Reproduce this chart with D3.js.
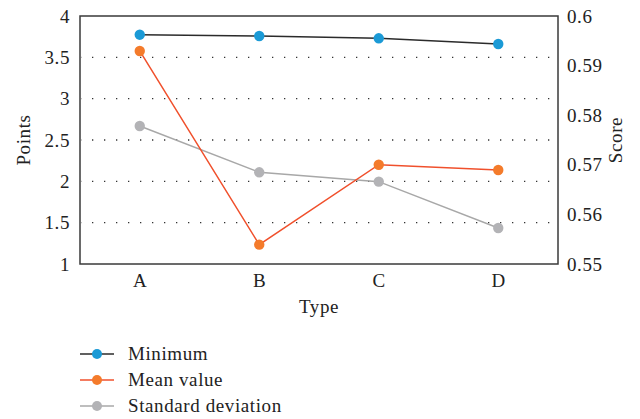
<!DOCTYPE html>
<html><head><meta charset="utf-8">
<script src="https://cdn.jsdelivr.net/npm/d3@7"></script>
<style>body{margin:0;background:#fff;} svg{display:block;} text{font-family:"Liberation Serif","Times New Roman","DejaVu Serif",serif;}</style>
</head><body>
<svg id="c" width="640" height="419"></svg>
<script>
const categories = ["A","B","C","D"];
const minimumValues = [3.774, 3.758, 3.730, 3.661];
const meanValues = [3.577, 1.234, 2.201, 2.137];
const stdValues = [2.669, 2.109, 1.996, 1.435];
const leftTicks = [1, 1.5, 2, 2.5, 3, 3.5, 4];
const rightTicks = [0.55, 0.56, 0.57, 0.58, 0.59, 0.6];
const gridTicks = [1.5, 2, 2.5, 3, 3.5];
const seriesNames = ["Minimum", "Mean value", "Standard deviation"];

const svg = d3.select("#c");
const L = 80, R = 558, T = 16, B = 264;
const FS = 19, LS = 0.6;

const x = d3.scalePoint().domain(categories).range([L, R]).padding(0.5);
const y = d3.scaleLinear().domain([1, 4]).range([B, T]);
const y2 = d3.scaleLinear().domain([0.55, 0.6]).range([B, T]);

// grid
svg.append("g").selectAll("line").data(gridTicks).join("line")
  .attr("x1", L + 1).attr("x2", R - 1)
  .attr("y1", d => y(d)).attr("y2", d => y(d))
  .attr("stroke", "#333").attr("stroke-width", 1.3)
  .attr("stroke-dasharray", "1.3,10.7").attr("stroke-dashoffset", -11);

// frame
svg.append("rect").attr("x", L).attr("y", T).attr("width", R - L).attr("height", B - T)
  .attr("fill", "none").attr("stroke", "#3a3a3a").attr("stroke-width", 1.5);

// axes
const axL = svg.append("g").attr("transform", `translate(${L},0)`)
  .call(d3.axisLeft(y).tickValues(leftTicks).tickSize(0).tickPadding(10).tickFormat(d3.format("")));
const axR = svg.append("g").attr("transform", `translate(${R},0)`)
  .call(d3.axisRight(y2).tickValues(rightTicks).tickSize(0).tickPadding(9).tickFormat(d => d3.format("")(+d.toFixed(2))));
const axB = svg.append("g").attr("transform", `translate(0,${B})`)
  .call(d3.axisBottom(x).tickSize(0).tickPadding(10));
[axL, axR, axB].forEach(a => {
  a.attr("font-family", null).attr("font-size", null);
  a.select(".domain").remove();
  a.selectAll("text").style("font-size", FS + "px").style("letter-spacing", LS + "px").attr("fill", "#222");
});

function title(tx, ty, rot, s) {
  svg.append("text").attr("transform", `translate(${tx},${ty}) rotate(${rot})`)
    .attr("text-anchor", "middle").style("font-size", FS + "px").style("letter-spacing", LS + "px")
    .attr("fill", "#222").text(s);
}
title(30, (T + B) / 2, -90, "Points");
title(622, (T + B) / 2, -90, "Score");
title((L + R) / 2, 313, 0, "Type");

const series = [
  {name: seriesNames[0], values: minimumValues, line: "#2b2b2b", dot: "#1b9ad6"},
  {name: seriesNames[1], values: meanValues, line: "#f0502c", dot: "#f47b2b"},
  {name: seriesNames[2], values: stdValues, line: "#a8a8a8", dot: "#b3b3b6"}
];
const line = d3.line().x((d, i) => x(categories[i])).y(d => y(d));

[2, 1, 0].forEach(k => {
  const s = series[k];
  svg.append("path").attr("d", line(s.values)).attr("fill", "none")
    .attr("stroke", s.line).attr("stroke-width", 1.5);
});
[2, 1, 0].forEach(k => {
  const s = series[k];
  svg.append("g").selectAll("circle").data(s.values).join("circle")
    .attr("cx", (d, i) => x(categories[i])).attr("cy", d => y(d))
    .attr("r", 5.2).attr("fill", s.dot);
});

// legend
const lg = svg.append("g");
series.forEach((s, i) => {
  const yy = 354 + i * 26;
  lg.append("line").attr("x1", 80).attr("x2", 114).attr("y1", yy).attr("y2", yy)
    .attr("stroke", s.line).attr("stroke-width", 1.5);
  lg.append("circle").attr("cx", 97).attr("cy", yy).attr("r", 5).attr("fill", s.dot);
  lg.append("text").attr("x", 128).attr("y", yy + 6)
    .style("font-size", FS + "px").style("letter-spacing", LS + "px").attr("fill", "#222").text(s.name);
});
</script>
</body></html>
